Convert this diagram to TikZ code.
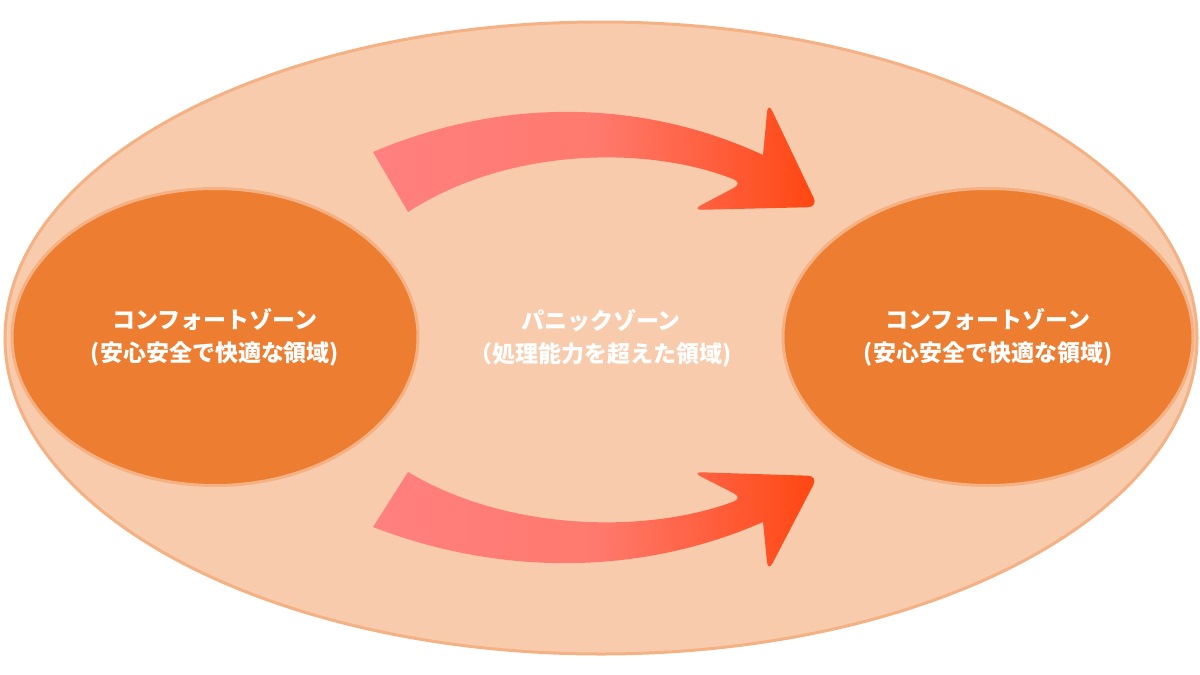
\documentclass[tikz,border=0pt]{standalone}
\usepackage{fontspec}
\newfontfamily\jpfont{Noto Sans CJK JP}
\usetikzlibrary{shapes}
\definecolor{panicfill}{HTML}{F8CBAD}
\definecolor{zoneedge}{HTML}{F4B183}
\definecolor{comfortfill}{HTML}{ED7D31}
\definecolor{arrowpink}{RGB}{255,128,128}
\definecolor{arrowmid}{RGB}{255,122,110}
\definecolor{arrowred}{RGB}{255,70,16}
\pgfdeclarehorizontalshading{arrowgrad}{100bp}{color(0bp)=(arrowpink); color(25bp)=(arrowpink);
  color(50bp)=(arrowmid); color(75bp)=(arrowred); color(100bp)=(arrowred)}
\tikzset{zone/.style={ellipse, draw=zoneedge, line width=1.5pt, text=white,
                      align=center, inner sep=0pt}}

\begin{document}
\begin{tikzpicture}[x=0.5pt, y=-0.5pt, font=\jpfont\bfseries\fontsize{11.5}{16.5}\selectfont]

\useasboundingbox (0,0) rectangle (1200,675);

% zones
\node[zone, fill=panicfill, minimum width=596pt, minimum height=316pt] (panic) at (601,338)
  {パニックゾーン\\（処理能力を超えた領域)};
\node[zone, fill=comfortfill, minimum width=203pt, minimum height=148.5pt] (leftzone) at (215,337)
  {コンフォートゾーン\\(安心安全で快適な領域)};
\node[zone, fill=comfortfill, minimum width=205pt, minimum height=148.5pt] (rightzone) at (988,337)
  {コンフォートゾーン\\(安心安全で快適な領域)};

% curved arrows
\shade[shading=arrowgrad] (373,152) .. controls (500,98) and (640,98) .. (763,155)
  [rounded corners=5pt] -- (768,102) -- (818,207) -- (692,210) -- (743,183) [sharp corners]
  .. controls (650,146) and (510,146) .. (408,212) -- cycle;
\shade[shading=arrowgrad] (373,527) .. controls (500,576) and (640,576) .. (763,522)
  [rounded corners=5pt] -- (768,572) -- (818,476) -- (692,472) -- (743,498) [sharp corners]
  .. controls (650,533) and (510,533) .. (408,472) -- cycle;

\end{tikzpicture}
\end{document}
